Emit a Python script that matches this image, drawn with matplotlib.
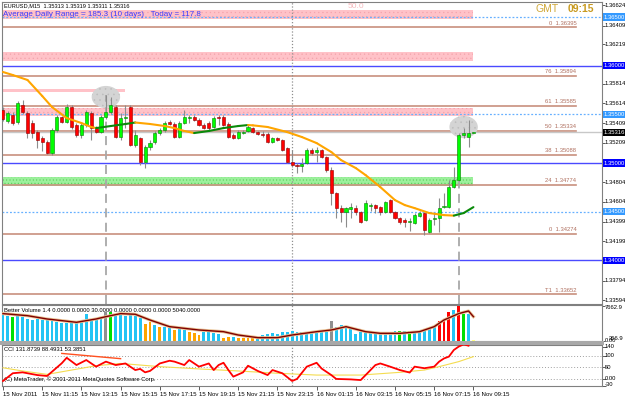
import matplotlib.pyplot as plt
import matplotlib.transforms as mtransforms
from matplotlib.patches import Rectangle, Ellipse
import numpy as np

plt.rcParams['font.family'] = ['Liberation Sans', 'DejaVu Sans']
plt.rcParams['hatch.linewidth'] = 0.4

W, H = 625, 398

# EURUSD M15, bar 0 = 15 Nov 2011 09:15
opens = [1.35546, 1.35432, 1.35494, 1.35422, 1.35597, 1.35515, 1.35412, 1.35319, 1.35258, 1.35216,
         1.35103, 1.35340, 1.35474, 1.35422, 1.35576, 1.35391, 1.35288, 1.35391, 1.35515, 1.35360,
         1.35319, 1.35474, 1.35525, 1.35576, 1.35268, 1.35463, 1.35576, 1.35186, 1.35258, 1.35011,
         1.35165, 1.35216, 1.35309, 1.35340, 1.35422, 1.35402, 1.35268, 1.35412, 1.35463, 1.35474,
         1.35443, 1.35391, 1.35412, 1.35371, 1.35474, 1.35474, 1.35402, 1.35288, 1.35258, 1.35309,
         1.35330, 1.35360, 1.35319, 1.35299, 1.35299, 1.35216, 1.35258, 1.35237, 1.35155, 1.35011,
         1.34980, 1.34970, 1.35000, 1.35134, 1.35114, 1.35134, 1.35062, 1.34928, 1.34692, 1.34538,
         1.34497, 1.34528, 1.34538, 1.34497, 1.34415, 1.34559, 1.34569, 1.34548, 1.34497, 1.34620,
         1.34497, 1.34435, 1.34415, 1.34394, 1.34384, 1.34456, 1.34487, 1.34292, 1.34425, 1.34435,
         1.34548, 1.34548, 1.34754, 1.34826, 1.35288, 1.35268, 1.35313]
highs = [1.35576, 1.35535, 1.35525, 1.35638, 1.35648, 1.35535, 1.35443, 1.35340, 1.35278, 1.35237,
         1.35360, 1.35494, 1.35484, 1.35607, 1.35597, 1.35412, 1.35412, 1.35546, 1.35535, 1.35381,
         1.35494, 1.35700, 1.35679, 1.35597, 1.35515, 1.35597, 1.35597, 1.35340, 1.35268, 1.35186,
         1.35237, 1.35330, 1.35360, 1.35432, 1.35443, 1.35422, 1.35432, 1.35546, 1.35494, 1.35494,
         1.35463, 1.35412, 1.35432, 1.35484, 1.35494, 1.35494, 1.35422, 1.35309, 1.35340, 1.35340,
         1.35391, 1.35371, 1.35330, 1.35330, 1.35319, 1.35268, 1.35268, 1.35247, 1.35165, 1.35134,
         1.35000, 1.35052, 1.35155, 1.35155, 1.35165, 1.35144, 1.35072, 1.34959, 1.34702, 1.34569,
         1.34548, 1.34589, 1.34569, 1.34507, 1.34620, 1.34589, 1.34579, 1.34559, 1.34610, 1.34630,
         1.34507, 1.34446, 1.34435, 1.34435, 1.34487, 1.34507, 1.34497, 1.34435, 1.34487, 1.34641,
         1.34692, 1.34826, 1.34959, 1.35309, 1.35360, 1.35443, 1.35319]
lows = [1.35432, 1.35412, 1.35391, 1.35402, 1.35504, 1.35258, 1.35258, 1.35155, 1.35124, 1.35093,
        1.35083, 1.35319, 1.35412, 1.35412, 1.35350, 1.35268, 1.35258, 1.35371, 1.35237, 1.35309,
        1.35309, 1.35453, 1.35504, 1.35258, 1.35237, 1.35360, 1.35175, 1.35165, 1.34980, 1.34949,
        1.35134, 1.35196, 1.35288, 1.35319, 1.35391, 1.35258, 1.35258, 1.35402, 1.35412, 1.35432,
        1.35381, 1.35350, 1.35340, 1.35360, 1.35391, 1.35381, 1.35258, 1.35247, 1.35247, 1.35299,
        1.35319, 1.35309, 1.35288, 1.35268, 1.35206, 1.35206, 1.35227, 1.35124, 1.35000, 1.34959,
        1.34898, 1.34908, 1.34990, 1.35083, 1.35011, 1.35052, 1.34908, 1.34569, 1.34435, 1.34394,
        1.34343, 1.34435, 1.34466, 1.34384, 1.34405, 1.34507, 1.34487, 1.34466, 1.34487, 1.34487,
        1.34425, 1.34374, 1.34343, 1.34302, 1.34374, 1.34446, 1.34261, 1.34281, 1.34363, 1.34292,
        1.34538, 1.34538, 1.34743, 1.34815, 1.35258, 1.35165, 1.35311]
closes = [1.35453, 1.35515, 1.35412, 1.35618, 1.35525, 1.35309, 1.35309, 1.35237, 1.35216, 1.35103,
          1.35340, 1.35474, 1.35422, 1.35576, 1.35371, 1.35288, 1.35391, 1.35525, 1.35360, 1.35319,
          1.35474, 1.35525, 1.35597, 1.35268, 1.35463, 1.35474, 1.35186, 1.35288, 1.35011, 1.35165,
          1.35206, 1.35309, 1.35340, 1.35412, 1.35402, 1.35268, 1.35412, 1.35474, 1.35474, 1.35443,
          1.35391, 1.35360, 1.35360, 1.35463, 1.35463, 1.35391, 1.35268, 1.35258, 1.35319, 1.35319,
          1.35371, 1.35319, 1.35299, 1.35288, 1.35216, 1.35258, 1.35237, 1.35134, 1.35011, 1.34980,
          1.34970, 1.34990, 1.35134, 1.35103, 1.35134, 1.35062, 1.34928, 1.34692, 1.34538, 1.34497,
          1.34538, 1.34548, 1.34497, 1.34394, 1.34589, 1.34569, 1.34538, 1.34497, 1.34600, 1.34497,
          1.34435, 1.34394, 1.34394, 1.34405, 1.34466, 1.34487, 1.34312, 1.34415, 1.34435, 1.34538,
          1.34559, 1.34754, 1.34826, 1.35288, 1.35309, 1.35309, 1.35316]

# smoothed average on the price chart
ma_bar = [0, 2, 5, 8, 10, 13, 16, 18, 19, 22, 25, 27, 28, 30, 33, 35, 37, 39, 42, 45, 48, 50, 51,
          54, 58, 61, 64, 67, 69, 72, 74, 77, 80, 82, 84, 87, 90, 92, 94, 96]
ma_val = [1.35936, 1.35905, 1.35854, 1.35690, 1.35576, 1.35463, 1.35412, 1.35371, 1.35360, 1.35381,
          1.35402, 1.35417, 1.35412, 1.35402, 1.35381, 1.35360, 1.35330, 1.35309, 1.35330, 1.35360,
          1.35381, 1.35391, 1.35388, 1.35371, 1.35319, 1.35268, 1.35206, 1.35114, 1.35031, 1.34949,
          1.34877, 1.34754, 1.34620, 1.34569, 1.34538, 1.34487, 1.34466, 1.34461, 1.34487, 1.34548]

fib_levels = [1.36395, 1.35894, 1.35585, 1.35334, 1.35088, 1.34774, 1.34274, 1.33652]
fib_names = ['0', '76', '61', '50', '38', '24', '0', 'T1']
round_levels = [1.36000, 1.35000, 1.34000]
half_levels = [1.36500, 1.35500, 1.34500]
pink_zones = [(1.36480, 1.36573), (1.36049, 1.36141), (1.35484, 1.35566)]
green_zone = (1.34764, 1.34856)
short_zone = (1.35730, 1.35761)
bid = 1.35316
ellipse_bars = [21, 94]
ellipse_prices = [1.35679, 1.35371]

plain_ticks = [1.36624, 1.36409, 1.36219, 1.35814, 1.35614, 1.35409, 1.35209, 1.34804,
               1.34604, 1.34399, 1.34199, 1.33794, 1.33594]
marked_ticks = [1.36500, 1.36000, 1.35500, 1.35316, 1.35000, 1.34500, 1.34000]
marked_colors = ['#3399ff', '#0000ff', '#3399ff', '#000000', '#0000ff', '#3399ff', '#0000ff']

# Better Volume
volume = [5660, 5510, 5290, 5510, 5290, 4775, 4550, 4775, 4550, 4775,
          4550, 4180, 3820, 3820, 4040, 3820, 4180, 5820, 4775, 4550,
          4775, 6400, 6400, 5510, 5820, 5510, 5820, 5510, 5060, 3600,
          4040, 3440, 3070, 3070, 2700, 2330, 2700, 2330, 1960, 1590,
          1220, 1960, 1810, 1590, 1370, 630, 850, 850, 480, 480,
          630, 850, 850, 1220, 1370, 1590, 1370, 1810, 1960, 2110,
          1960, 1810, 1590, 1810, 1810, 1960, 1810, 4330, 3070, 3440,
          3290, 2700, 1370, 1960, 2110, 1810, 1590, 1590, 1810, 1960,
          2110, 2110, 2110, 2110, 1960, 2110, 2330, 2700, 3070, 4330,
          4550, 6260, 6775, 7663, 5820, 5820, 110]
vol_kind = ('bbgbbbbbbb' 'bbbbbbbbbb' 'bkgbbbbbbo' 'obobbobboo'
            'obbbbooboo' 'oobbbbbbbb' 'bbbbbbbkbb' 'bbbbbbbbbb'
            'bgbgbbbbbr' 'rrbrgby')
vol_colors = {'b': '#22c4f4', 'g': '#00e000', 'o': '#ffa500', 'r': '#ff0000',
              'k': '#909090', 'y': '#ffff80'}
vol_ma_bar = [0, 5, 9, 15, 19, 21, 24, 27, 30, 34, 40, 45, 48, 52, 56, 59, 64, 67, 70, 74,
              77, 81, 85, 88, 90, 93, 95, 96]
vol_ma_val = [5970, 5510, 4775, 4040, 4775, 5290, 5970, 5820, 4550, 3070, 2330, 1960, 1220, 630,
              630, 1220, 1960, 2330, 3070, 1960, 1590, 1590, 1960, 3070, 4550, 5970, 6550, 5290]

# CCI
cci_bar = [0, 2, 4, 7, 9, 12, 13, 15, 17, 19, 21, 23, 25, 27, 28, 29, 30, 32, 34, 35, 37, 38, 40,
           42, 43, 44, 45, 46, 47, 49, 50, 52, 54, 55, 57, 59, 60, 62, 64, 65, 67, 68, 71, 73, 74,
           76, 77, 79, 81, 83, 84, 86, 88, 89, 90, 91, 92, 93, 94, 95]
cci_val = [-10, 24, 28, 16, 12, 68, 92, 60, 82, 53, 75, 60, 67, 38, 43, 28, 34, 67, 79, 75, 60, 82,
           53, 67, 38, 60, 70, 38, 9, 28, 57, 34, 16, 38, 24, -10, -1, 53, 70, 45, 16, -1, -3, -6,
           16, 60, 67, 53, 38, 27, 53, 46, 53, 75, 89, 97, 126, 141, 151, 145]
sig_bar = [0, 4, 9, 19, 24, 32, 40, 48, 56, 64, 73, 81, 86, 89, 93, 96]
sig_val = [48, 34, 19, 57, 67, 53, 43, 34, 24, 16, 16, 28, 38, 53, 75, 97]
cci_levels = [100, 50, 0]
cci_trend_bar = [12, 24]
cci_trend_val = [111, 88]

time_bar = [0, 8, 16, 24, 32, 40, 48, 56, 64, 72, 80, 88, 96]
time_labels = ['15 Nov 2011', '15 Nov 11:15', '15 Nov 13:15', '15 Nov 15:15', '15 Nov 17:15',
               '15 Nov 19:15', '15 Nov 21:15', '15 Nov 23:15', '16 Nov 01:15', '16 Nov 03:15',
               '16 Nov 05:15', '16 Nov 07:15', '16 Nov 09:15']
day_sep_bar = 59
marked_bars = [21, 93]
zone_end_bar = 96
fib_end_bar = 117

SMALL = 4.2

fig = plt.figure(figsize=(6.25, 3.98), dpi=100)
fig.patch.set_facecolor('white')


def panel(x0, y0, x1, y1):
    a = fig.add_axes([x0 / W, 1 - y1 / H, (x1 - x0) / W, (y1 - y0) / H])
    a.set_xlim(-0.2, 122.24)
    for s in a.spines.values():
        s.set_color('#808080')
        s.set_linewidth(0.8)
    a.tick_params(left=False, labelleft=False, bottom=False, labelbottom=False,
                  right=True, labelright=False, length=2, width=0.6, color='#404040')
    return a


ax = panel(2, 2, 602, 304)
vol = panel(2, 305, 602, 341)
cci = panel(2, 345, 602, 386)
ax.set_ylim(1.33553, 1.36655)
x = np.arange(len(opens))
o, h, l, c = map(np.array, (opens, highs, lows, closes))
right = mtransforms.blended_transform_factory(ax.transAxes, ax.transData)

# zones
for lo, hi in pink_zones:
    ax.add_patch(Rectangle((-1, lo), zone_end_bar + 1, hi - lo, facecolor='#ffc2c8',
                           edgecolor='#f4a4ac', hatch='....', lw=0, zorder=1))
ax.add_patch(Rectangle((-1, short_zone[0]), 26, short_zone[1] - short_zone[0],
                       facecolor='#ffc2c8', lw=0, zorder=1))
ax.add_patch(Rectangle((-1, green_zone[0]), zone_end_bar + 1, green_zone[1] - green_zone[0],
                       facecolor='#9cf09c', edgecolor='#5ccc5c', hatch='.....', lw=0, zorder=1))

for lev, name in zip(fib_levels, fib_names):
    ax.plot([-1, fib_end_bar], [lev, lev], color='#c8907e', lw=1.2, zorder=2)
    ax.text(fib_end_bar, lev + 0.00018, name + '  %.5f' % lev, ha='right', va='bottom',
            fontsize=SMALL, color='#b07060', zorder=6)
for lev in round_levels:
    ax.axhline(lev, color='#4a4aff', lw=1.0, zorder=2)
for lev in half_levels:
    ax.axhline(lev, color='#66b0ff', lw=0.9, ls=(0, (1.5, 1.5)), zorder=2)
ax.axhline(bid, color='#c8c8c8', lw=1.0, zorder=2)
ax.axvline(day_sep_bar, color='#909090', lw=0.9, ls=(0, (1, 1.5)), zorder=2)

# highlight ellipses around the two swing bars
for b, p in zip(ellipse_bars, ellipse_prices):
    ax.add_patch(Ellipse((b, p), 5.8, 0.00228, facecolor='#d4d4d4',
                         edgecolor='#bdbdbd', hatch='...', lw=0, zorder=2))
ax.plot([marked_bars[0]] * 2, [ax.get_ylim()[0], h[marked_bars[0]]], color='#a8a8a8',
        lw=1.3, ls=(0, (5, 3)), zorder=2)
ax.plot([marked_bars[1]] * 2, [ax.get_ylim()[0], l[marked_bars[1]]], color='#a8a8a8',
        lw=1.3, ls=(0, (5, 3)), zorder=2)

# candles
up = c >= o
ax.vlines(x, l, h, color='#8c8c8c', lw=0.8, zorder=3)
body = np.maximum(np.abs(c - o), 0.00003)
ax.bar(x, body, bottom=np.minimum(o, c), width=0.62,
       color=np.where(up, '#00ff00', '#ff0000'),
       edgecolor=np.where(up, '#008000', '#900000'), lw=0.4, zorder=4)

# moving average, green where rising
for i in range(len(ma_bar) - 1):
    col = '#0a8a0a' if ma_val[i + 1] > ma_val[i] else '#ffa500'
    ax.plot(ma_bar[i:i + 2], ma_val[i:i + 2], color=col, lw=1.5, zorder=5,
            solid_capstyle='round')

# price scale
ax.set_yticks(plain_ticks + marked_ticks)
for p in plain_ticks:
    ax.text(1.005, p, '%.5f' % p, transform=right, ha='left', va='center', fontsize=SMALL,
            color='black', clip_on=False)
for p, col in zip(marked_ticks, marked_colors):
    ax.text(1.003, p, '%.5f' % p, transform=right, ha='left', va='center', fontsize=SMALL,
            color='white', clip_on=False,
            bbox=dict(boxstyle='square,pad=0.2', facecolor=col, edgecolor='none'))

fig.text(4 / W, 1 - 6 / H, 'EURUSD,M15  1.35313 1.35319 1.35311 1.35316', fontsize=4.1,
         va='center', color='black')
fig.text(3 / W, 1 - 15 / H, 'Average Daily Range = 185.3 (10 days)   Today = 117.8',
         fontsize=5.8, va='center', color='#3a3aff')
fig.text(348 / W, 1 - 7 / H, '50.0', fontsize=6, va='center', color='#f4b8bc')
fig.text(535 / W, 1 - 9 / H, 'GMT', fontsize=7.5, va='center', color='#d0a838')
fig.text(568 / W, 1 - 9 / H, '09:15', fontsize=7.5, va='center', color='#c89a20',
         fontweight='bold')

# volume panel
vol.set_ylim(-110, 7880)
vol.bar(x, volume, width=0.6, color=[vol_colors[k] for k in vol_kind], lw=0, zorder=3)
vol.plot(vol_ma_bar, vol_ma_val, color='#e8c090', lw=2.2, zorder=4)
vol.plot(vol_ma_bar, vol_ma_val, color='#800000', lw=1.0, zorder=5)
vol.axvline(day_sep_bar, color='#909090', lw=0.9, ls=(0, (1, 1.5)), zorder=2)
vol.set_yticks([0, 7663])
vtr = mtransforms.blended_transform_factory(vol.transAxes, vol.transData)
vol.text(1.005, 7300, '7662.9', transform=vtr, fontsize=SMALL, va='center', clip_on=False)
vol.text(1.012, 520, '356.9', transform=vtr, fontsize=SMALL, va='center', clip_on=False)
vol.text(1.005, 20, '0.00', transform=vtr, fontsize=SMALL, va='center', clip_on=False)
vol.text(0.004, 0.86, 'Better Volume 1.4 0.0000 0.0000 30.0000 0.0000 0.0000 0.0000 5040.0000',
         transform=vol.transAxes, fontsize=SMALL, va='center')

fig.patches.append(Rectangle((0, 1 - 345 / H), 604 / W, 4 / H, transform=fig.transFigure,
                             facecolor='#a8a8a8', edgecolor='none'))

# CCI panel
cci.set_ylim(-32, 148)
for lev in cci_levels:
    cci.axhline(lev, color='#a0a0a0', lw=0.7, ls=(0, (1, 2)), zorder=2)
cci.axvline(day_sep_bar, color='#909090', lw=0.9, ls=(0, (1, 1.5)), zorder=2)
cci.plot(sig_bar, sig_val, color='#f4dc50', lw=0.8, zorder=3)
cci.plot(cci_bar, cci_val, color='#ff0000', lw=1.3, zorder=4)
cci.plot(cci_trend_bar, cci_trend_val, color='#ff5020', lw=1.0, zorder=4)
cci.set_yticks([140, 100, 50, 0, -30])
ctr = mtransforms.blended_transform_factory(cci.transAxes, cci.transData)
for v, s in zip([140, 100, 50, 0, -24], ['140', '100', '50', '0.00', '-30']):
    cci.text(1.005, v, s, transform=ctr, fontsize=SMALL, va='center', clip_on=False)
cci.text(0.004, 0.88, 'CCI 131.8739 88.4931 53.3851', transform=cci.transAxes,
         fontsize=SMALL, va='center')
cci.text(0.004, 0.17, '(C) MetaTrader, \u00a9 2001-2011 MetaQuotes Software Corp.',
         transform=cci.transAxes, fontsize=SMALL, va='center')

cci.set_xticks(time_bar)
cci.set_xticklabels(time_labels, ha='left', fontsize=4.4)
cci.tick_params(bottom=True, labelbottom=True, length=3, width=0.6, pad=1.5)

fig.savefig('out.png', dpi=100)
